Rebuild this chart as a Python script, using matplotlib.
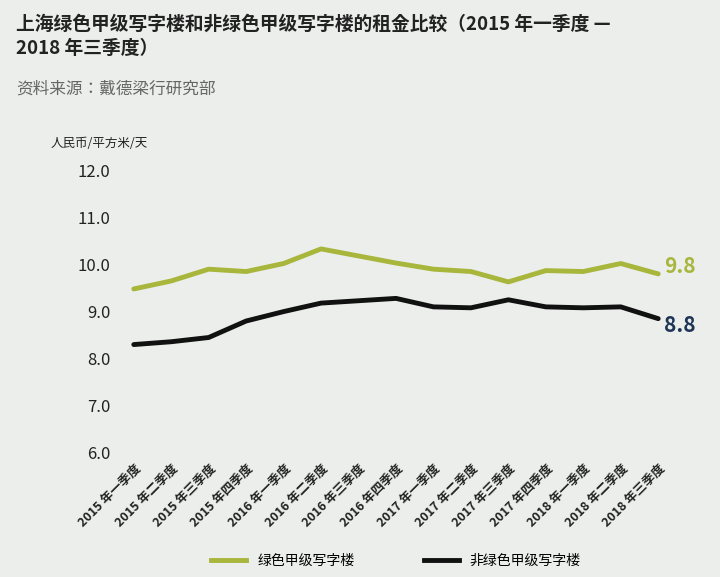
import matplotlib
matplotlib.use("Agg")
import matplotlib.pyplot as plt
from matplotlib import font_manager
from matplotlib.lines import Line2D

# pick an installed CJK font by file name so Chinese glyphs render
cjk = [f for f in font_manager.findSystemFonts() if "CJK" in f]
if cjk:
    font_manager.fontManager.addfont(cjk[0])
    name = font_manager.FontProperties(fname=cjk[0]).get_name()
    plt.rcParams["font.family"] = [name, "DejaVu Sans"]
else:
    plt.rcParams["font.family"] = ["Noto Sans CJK SC", "DejaVu Sans"]

quarters = ["2015 年一季度", "2015 年二季度", "2015 年三季度", "2015 年四季度",
            "2016 年一季度", "2016 年二季度", "2016 年三季度", "2016 年四季度",
            "2017 年一季度", "2017 年二季度", "2017 年三季度", "2017 年四季度",
            "2018 年一季度", "2018 年二季度", "2018 年三季度"]
green = [9.48, 9.65, 9.9, 9.85, 10.02, 10.33, 10.18, 10.03, 9.9, 9.85, 9.63, 9.87, 9.85, 10.02, 9.8]
other = [8.3, 8.36, 8.45, 8.8, 9.0, 9.18, 9.23, 9.28, 9.1, 9.08, 9.25, 9.1, 9.08, 9.1, 8.85]
yticks = [6.0, 7.0, 8.0, 9.0, 10.0, 11.0, 12.0]

GREEN = "#a8b63c"
BG = "#eceeec"

fig = plt.figure(figsize=(7.2, 5.77), dpi=100, facecolor=BG)
ax = fig.add_axes([0.165, 0.215, 0.77, 0.49])
ax.set_facecolor(BG)

x = list(range(len(quarters)))
ax.plot(x, green, color=GREEN, lw=3.5, solid_joinstyle="round", solid_capstyle="round")
ax.plot(x, other, color="#111111", lw=3.5, solid_joinstyle="round", solid_capstyle="round")
ax.text(x[-1] + 0.15, green[-1] + 0.15, "9.8", color=GREEN, fontsize=15, fontweight="bold", va="center")
ax.text(x[-1] + 0.15, other[-1] - 0.15, "8.8", color="#1f3556", fontsize=15, fontweight="bold", va="center")

ax.set_ylim(6.0, 12.0)
ax.set_xlim(-0.4, len(quarters) - 0.6)
ax.set_yticks(yticks)
ax.set_yticklabels([f"{v:.1f}" for v in yticks], fontsize=12, color="#222")
ax.set_xticks(x)
ax.set_xticklabels(quarters, rotation=45, ha="right", rotation_mode="anchor",
                   fontsize=9, fontweight="bold", color="#222")
ax.tick_params(length=0, pad=6)
for s in ax.spines.values():
    s.set_visible(False)

fig.text(0.022, 0.975, "上海绿色甲级写字楼和非绿色甲级写字楼的租金比较（2015 年一季度 —\n2018 年三季度）",
         fontsize=13.5, fontweight="bold", color="#222", va="top", linespacing=1.35)
fig.text(0.022, 0.845, "资料来源：戴德梁行研究部", fontsize=12, color="#666", va="center")
fig.text(0.07, 0.752, "人民币/平方米/天", fontsize=9, color="#222", va="center")

handles = [Line2D([], [], color=GREEN, lw=3.5), Line2D([], [], color="#111111", lw=3.5)]
fig.legend(handles, ["绿色甲级写字楼", "非绿色甲级写字楼"], loc="lower center",
           bbox_to_anchor=(0.55, -0.005), ncol=2, frameon=False, fontsize=10,
           handlelength=2.5, columnspacing=5)

fig.savefig("out.png", dpi=100, facecolor=BG)
